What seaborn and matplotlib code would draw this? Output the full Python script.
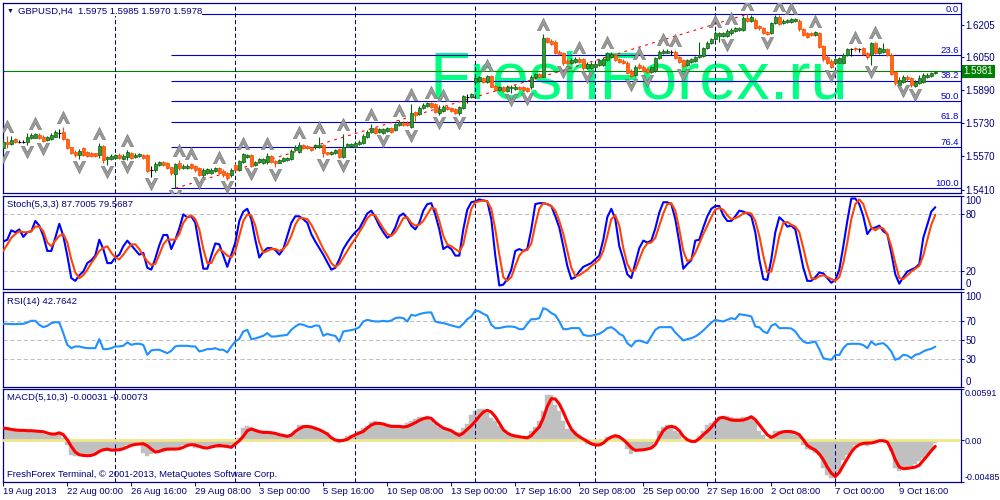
import numpy as np
import matplotlib
matplotlib.use("Agg")
import matplotlib.pyplot as plt
import matplotlib.transforms as mtransforms
from matplotlib.path import Path
import seaborn as sns

sns.set_style("white")
plt.rcParams['font.family'] = ['Liberation Sans', 'DejaVu Sans']

# ---- data (GBPUSD H4, one value per bar) ----
opens = [1.5610, 1.5642, 1.5630, 1.5653, 1.5642, 1.5642, 1.5642, 1.5661, 1.5661, 1.5674,
         1.5666, 1.5650, 1.5653, 1.5666, 1.5683, 1.5690, 1.5653, 1.5614, 1.5593, 1.5577,
         1.5610, 1.5593, 1.5589, 1.5585, 1.5576, 1.5622, 1.5556, 1.5556, 1.5561, 1.5577,
         1.5560, 1.5569, 1.5589, 1.5569, 1.5572, 1.5577, 1.5577, 1.5505, 1.5505, 1.5529,
         1.5545, 1.5537, 1.5518, 1.5486, 1.5537, 1.5516, 1.5513, 1.5532, 1.5526, 1.5513,
         1.5481, 1.5489, 1.5492, 1.5502, 1.5513, 1.5502, 1.5492, 1.5481, 1.5529, 1.5505,
         1.5545, 1.5569, 1.5577, 1.5529, 1.5545, 1.5540, 1.5545, 1.5572, 1.5548, 1.5540,
         1.5550, 1.5553, 1.5556, 1.5601, 1.5593, 1.5626, 1.5621, 1.5614, 1.5614, 1.5618,
         1.5626, 1.5590, 1.5582, 1.5589, 1.5605, 1.5566, 1.5618, 1.5621, 1.5618, 1.5630,
         1.5634, 1.5666, 1.5690, 1.5706, 1.5690, 1.5685, 1.5693, 1.5706, 1.5698, 1.5722,
         1.5733, 1.5733, 1.5714, 1.5785, 1.5775, 1.5803, 1.5814, 1.5827, 1.5824, 1.5782,
         1.5791, 1.5811, 1.5806, 1.5798, 1.5779, 1.5803, 1.5856, 1.5856, 1.5932, 1.5936,
         1.5948, 1.5932, 1.5959, 1.5911, 1.5891, 1.5904, 1.5888, 1.5899, 1.5895, 1.5904,
         1.5904, 1.5899, 1.5904, 1.5956, 1.5969, 1.5956, 1.6141, 1.6130, 1.6125, 1.6076,
         1.6068, 1.6033, 1.6023, 1.6028, 1.6043, 1.6039, 1.5996, 1.5996, 1.6004, 1.6012,
         1.6012, 1.6036, 1.6052, 1.6060, 1.6039, 1.6033, 1.6023, 1.5985, 1.5964, 1.6012,
         1.6004, 1.5991, 1.5980, 1.5985, 1.6044, 1.6068, 1.6072, 1.6076, 1.6076, 1.6049,
         1.6036, 1.6012, 1.6028, 1.6033, 1.6049, 1.6056, 1.6093, 1.6117, 1.6136, 1.6152,
         1.6152, 1.6152, 1.6165, 1.6178, 1.6181, 1.6181, 1.6237, 1.6226, 1.6229, 1.6200,
         1.6189, 1.6173, 1.6168, 1.6213, 1.6246, 1.6217, 1.6221, 1.6221, 1.6226, 1.6226,
         1.6184, 1.6165, 1.6165, 1.6157, 1.6165, 1.6104, 1.6052, 1.6033, 1.6020, 1.6023,
         1.6023, 1.6060, 1.6088, 1.6093, 1.6088, 1.6093, 1.6072, 1.6060, 1.6117, 1.6072,
         1.6076, 1.6088, 1.6060, 1.5980, 1.5915, 1.5932, 1.5953, 1.5948, 1.5911, 1.5924,
         1.5932, 1.5953, 1.5959, 1.5975]
highs = [1.5650, 1.5669, 1.5669, 1.5658, 1.5650, 1.5650, 1.5682, 1.5682, 1.5685, 1.5682,
         1.5674, 1.5669, 1.5682, 1.5698, 1.5701, 1.5714, 1.5658, 1.5618, 1.5601, 1.5605,
         1.5614, 1.5598, 1.5593, 1.5589, 1.5634, 1.5626, 1.5572, 1.5582, 1.5582, 1.5585,
         1.5582, 1.5601, 1.5593, 1.5585, 1.5585, 1.5582, 1.5582, 1.5524, 1.5545, 1.5550,
         1.5550, 1.5542, 1.5521, 1.5540, 1.5553, 1.5534, 1.5534, 1.5537, 1.5531, 1.5518,
         1.5513, 1.5516, 1.5513, 1.5521, 1.5521, 1.5508, 1.5497, 1.5513, 1.5537, 1.5553,
         1.5589, 1.5582, 1.5582, 1.5548, 1.5563, 1.5563, 1.5589, 1.5577, 1.5553, 1.5560,
         1.5566, 1.5566, 1.5605, 1.5626, 1.5642, 1.5630, 1.5626, 1.5618, 1.5630, 1.5666,
         1.5630, 1.5593, 1.5597, 1.5608, 1.5610, 1.5679, 1.5637, 1.5637, 1.5643, 1.5650,
         1.5677, 1.5698, 1.5727, 1.5711, 1.5708, 1.5708, 1.5714, 1.5711, 1.5733, 1.5746,
         1.5740, 1.5740, 1.5824, 1.5791, 1.5814, 1.5827, 1.5835, 1.5835, 1.5830, 1.5819,
         1.5817, 1.5817, 1.5811, 1.5803, 1.5814, 1.5869, 1.5870, 1.5878, 1.5959, 1.5959,
         1.5956, 1.5965, 1.5964, 1.5915, 1.5911, 1.5911, 1.5915, 1.5915, 1.5914, 1.5911,
         1.5911, 1.5904, 1.5964, 1.5975, 1.5975, 1.6162, 1.6149, 1.6136, 1.6133, 1.6084,
         1.6075, 1.6039, 1.6044, 1.6049, 1.6049, 1.6046, 1.6027, 1.6028, 1.6023, 1.6043,
         1.6052, 1.6076, 1.6073, 1.6068, 1.6044, 1.6039, 1.6030, 1.5991, 1.6010, 1.6020,
         1.6010, 1.5996, 1.6007, 1.6052, 1.6084, 1.6088, 1.6088, 1.6084, 1.6084, 1.6056,
         1.6043, 1.6043, 1.6046, 1.6056, 1.6125, 1.6101, 1.6128, 1.6144, 1.6176, 1.6173,
         1.6173, 1.6184, 1.6189, 1.6197, 1.6197, 1.6249, 1.6257, 1.6254, 1.6237, 1.6205,
         1.6194, 1.6178, 1.6220, 1.6252, 1.6252, 1.6233, 1.6236, 1.6239, 1.6237, 1.6233,
         1.6189, 1.6170, 1.6170, 1.6178, 1.6171, 1.6109, 1.6060, 1.6039, 1.6044, 1.6052,
         1.6068, 1.6096, 1.6096, 1.6097, 1.6093, 1.6097, 1.6076, 1.6123, 1.6123, 1.6101,
         1.6120, 1.6093, 1.6068, 1.5985, 1.5953, 1.5964, 1.5962, 1.5953, 1.5940, 1.5964,
         1.5972, 1.5972, 1.5980, 1.5985]
lows = [1.5605, 1.5610, 1.5626, 1.5637, 1.5634, 1.5634, 1.5626, 1.5653, 1.5658, 1.5653,
        1.5642, 1.5647, 1.5650, 1.5663, 1.5658, 1.5650, 1.5605, 1.5582, 1.5569, 1.5556,
        1.5572, 1.5569, 1.5569, 1.5569, 1.5561, 1.5537, 1.5529, 1.5553, 1.5556, 1.5556,
        1.5553, 1.5553, 1.5556, 1.5561, 1.5566, 1.5556, 1.5497, 1.5473, 1.5497, 1.5524,
        1.5524, 1.5508, 1.5481, 1.5416, 1.5505, 1.5508, 1.5508, 1.5511, 1.5497, 1.5476,
        1.5473, 1.5484, 1.5486, 1.5497, 1.5484, 1.5473, 1.5457, 1.5473, 1.5502, 1.5502,
        1.5540, 1.5564, 1.5521, 1.5524, 1.5540, 1.5534, 1.5534, 1.5537, 1.5518, 1.5537,
        1.5545, 1.5548, 1.5553, 1.5597, 1.5589, 1.5608, 1.5605, 1.5597, 1.5608, 1.5610,
        1.5566, 1.5577, 1.5577, 1.5584, 1.5564, 1.5561, 1.5614, 1.5614, 1.5614, 1.5626,
        1.5630, 1.5661, 1.5685, 1.5679, 1.5682, 1.5679, 1.5688, 1.5682, 1.5693, 1.5717,
        1.5717, 1.5717, 1.5706, 1.5743, 1.5769, 1.5798, 1.5809, 1.5806, 1.5782, 1.5770,
        1.5787, 1.5793, 1.5787, 1.5775, 1.5770, 1.5798, 1.5830, 1.5851, 1.5924, 1.5932,
        1.5927, 1.5927, 1.5904, 1.5885, 1.5886, 1.5882, 1.5882, 1.5878, 1.5890, 1.5890,
        1.5886, 1.5882, 1.5898, 1.5951, 1.5949, 1.5953, 1.6120, 1.6109, 1.6065, 1.6059,
        1.6012, 1.6017, 1.6017, 1.6023, 1.6023, 1.5988, 1.5991, 1.5991, 1.5998, 1.6007,
        1.6007, 1.6031, 1.6047, 1.6031, 1.6023, 1.6015, 1.5969, 1.5953, 1.5959, 1.5991,
        1.5980, 1.5972, 1.5975, 1.5980, 1.6039, 1.6064, 1.6068, 1.6060, 1.6039, 1.6023,
        1.6001, 1.6007, 1.6023, 1.6028, 1.6044, 1.6052, 1.6088, 1.6112, 1.6133, 1.6125,
        1.6146, 1.6146, 1.6159, 1.6173, 1.6176, 1.6176, 1.6220, 1.6220, 1.6184, 1.6181,
        1.6160, 1.6155, 1.6163, 1.6208, 1.6204, 1.6210, 1.6217, 1.6217, 1.6221, 1.6178,
        1.6152, 1.6144, 1.6152, 1.6152, 1.6093, 1.6033, 1.6017, 1.5996, 1.6015, 1.6020,
        1.6017, 1.6056, 1.6056, 1.6081, 1.6076, 1.6059, 1.6043, 1.6012, 1.6065, 1.6065,
        1.6072, 1.6056, 1.5962, 1.5917, 1.5907, 1.5924, 1.5936, 1.5907, 1.5904, 1.5920,
        1.5927, 1.5948, 1.5956, 1.5970]
closes = [1.5639, 1.5630, 1.5650, 1.5642, 1.5642, 1.5642, 1.5666, 1.5674, 1.5677, 1.5658,
          1.5647, 1.5663, 1.5674, 1.5690, 1.5683, 1.5653, 1.5610, 1.5585, 1.5577, 1.5598,
          1.5577, 1.5572, 1.5572, 1.5572, 1.5622, 1.5553, 1.5566, 1.5572, 1.5576, 1.5561,
          1.5572, 1.5593, 1.5561, 1.5577, 1.5581, 1.5561, 1.5502, 1.5505, 1.5534, 1.5545,
          1.5529, 1.5513, 1.5489, 1.5534, 1.5513, 1.5526, 1.5526, 1.5516, 1.5505, 1.5481,
          1.5505, 1.5508, 1.5505, 1.5513, 1.5489, 1.5481, 1.5465, 1.5505, 1.5505, 1.5548,
          1.5582, 1.5577, 1.5526, 1.5542, 1.5556, 1.5556, 1.5572, 1.5545, 1.5537, 1.5553,
          1.5561, 1.5561, 1.5597, 1.5618, 1.5626, 1.5613, 1.5610, 1.5601, 1.5626, 1.5626,
          1.5589, 1.5582, 1.5592, 1.5601, 1.5569, 1.5618, 1.5630, 1.5630, 1.5637, 1.5642,
          1.5669, 1.5690, 1.5706, 1.5685, 1.5701, 1.5701, 1.5706, 1.5690, 1.5727, 1.5738,
          1.5722, 1.5722, 1.5782, 1.5770, 1.5806, 1.5819, 1.5827, 1.5811, 1.5787, 1.5798,
          1.5811, 1.5798, 1.5791, 1.5782, 1.5808, 1.5862, 1.5856, 1.5872, 1.5951, 1.5953,
          1.5932, 1.5959, 1.5907, 1.5891, 1.5904, 1.5888, 1.5907, 1.5907, 1.5907, 1.5895,
          1.5891, 1.5888, 1.5956, 1.5969, 1.5956, 1.6141, 1.6125, 1.6113, 1.6072, 1.6065,
          1.6023, 1.6023, 1.6036, 1.6039, 1.6028, 1.5996, 1.6017, 1.6017, 1.6017, 1.6036,
          1.6039, 1.6068, 1.6065, 1.6036, 1.6028, 1.6020, 1.5975, 1.5959, 1.6004, 1.5996,
          1.5985, 1.5977, 1.6001, 1.6044, 1.6076, 1.6081, 1.6081, 1.6076, 1.6044, 1.6028,
          1.6007, 1.6036, 1.6039, 1.6049, 1.6060, 1.6093, 1.6120, 1.6136, 1.6168, 1.6165,
          1.6165, 1.6178, 1.6181, 1.6189, 1.6189, 1.6237, 1.6226, 1.6242, 1.6189, 1.6189,
          1.6165, 1.6160, 1.6213, 1.6246, 1.6210, 1.6226, 1.6229, 1.6233, 1.6233, 1.6184,
          1.6157, 1.6149, 1.6157, 1.6173, 1.6101, 1.6039, 1.6023, 1.6004, 1.6039, 1.6044,
          1.6060, 1.6088, 1.6088, 1.6088, 1.6088, 1.6065, 1.6049, 1.6117, 1.6072, 1.6093,
          1.6088, 1.6060, 1.5969, 1.5924, 1.5940, 1.5956, 1.5943, 1.5915, 1.5932, 1.5948,
          1.5964, 1.5964, 1.5972, 1.5978]

# bars carrying a Bill Williams fractal
fractal_up_bars = [1, 8, 15, 24, 31, 44, 47, 54, 60, 66, 74, 79, 85, 92, 99, 102, 107, 110,
                   121, 135, 144, 151, 159, 165, 168, 178, 182, 186, 194, 197, 203, 213, 218]
fractal_down_bars = [0, 6, 10, 19, 26, 31, 37, 43, 49, 56, 62, 68, 80, 85, 95, 102, 109, 114,
                     127, 131, 140, 146, 157, 161, 170, 181, 191, 207, 217, 225, 228]

# fibonacci retracement object
fib_start_bar = 42
fib_labels = ['0.0', '23.6', '38.2', '50.0', '61.8', '76.4', '100.0']
fib_prices = [1.6257, 1.6059, 1.5936, 1.5837, 1.5737, 1.5614, 1.5416]
trend_bars = [43, 186]
trend_prices = [1.5416, 1.6257]
bid_price = 1.5981

price_ticks = [1.6205, 1.6050, 1.5890, 1.5730, 1.5570, 1.5410]
week_bars = [28, 58, 88, 118, 148, 178, 208]
date_bars = [0, 16, 32, 48, 64, 80, 96, 112, 128, 144, 160, 176, 192, 208, 224]
date_labels = ['19 Aug 2013', '22 Aug 00:00', '26 Aug 16:00', '29 Aug 08:00', '3 Sep 00:00',
               '5 Sep 16:00', '10 Sep 08:00', '13 Sep 00:00', '17 Sep 16:00', '20 Sep 08:00',
               '25 Sep 00:00', '27 Sep 16:00', '2 Oct 08:00', '7 Oct 00:00', '9 Oct 16:00']

stoch_main = [51, 53, 63, 61, 64, 56, 61, 62, 73, 68,
              57, 41, 41, 55, 70, 57, 36, 12, 9, 15,
              19, 28, 31, 36, 53, 43, 28, 28, 34, 37,
              46, 52, 47, 42, 37, 39, 23, 21, 33, 47,
              58, 58, 43, 53, 65, 80, 77, 78, 71, 46,
              22, 22, 36, 49, 48, 36, 24, 37, 50, 73,
              83, 86, 75, 53, 34, 40, 44, 44, 42, 37,
              43, 57, 71, 78, 78, 75, 71, 59, 51, 44,
              37, 29, 21, 23, 32, 43, 50, 56, 61, 65,
              73, 81, 84, 77, 68, 61, 55, 58, 66, 78,
              81, 76, 68, 64, 71, 84, 91, 92, 80, 64,
              43, 46, 43, 36, 36, 64, 85, 93, 94, 96,
              95, 94, 75, 36, 4, 5, 11, 21, 41, 43,
              41, 43, 64, 91, 92, 92, 91, 89, 78, 66,
              46, 25, 11, 13, 19, 24, 26, 28, 32, 36,
              53, 77, 86, 75, 46, 32, 16, 12, 28, 44,
              52, 50, 52, 65, 82, 93, 93, 91, 75, 50,
              22, 27, 31, 52, 53, 66, 78, 86, 89, 89,
              79, 73, 73, 78, 84, 83, 81, 78, 61, 32,
              11, 10, 32, 61, 77, 73, 67, 68, 64, 44,
              23, 9, 9, 13, 18, 17, 12, 7, 10, 21,
              46, 73, 97, 97, 91, 78, 59, 65, 66, 68,
              62, 59, 39, 16, 6, 13, 19, 21, 23, 27,
              55, 69, 83, 87.7005]
stoch_signal = [41, 48, 55, 59, 62, 61, 61, 62, 67, 67,
                62, 50, 46, 52, 57, 59, 50, 32, 18, 12,
                15, 21, 28, 34, 41, 44, 46, 39, 34, 32,
                37, 43, 48, 48, 43, 36, 30, 26, 27, 37,
                48, 53, 53, 53, 59, 71, 77, 79, 75, 64,
                43, 28, 28, 37, 43, 40, 36, 34, 41, 57,
                73, 80, 79, 68, 50, 39, 41, 43, 43, 41,
                43, 48, 57, 69, 76, 76, 75, 69, 61, 52,
                43, 36, 28, 24, 27, 34, 41, 48, 54, 61,
                68, 76, 80, 79, 72, 65, 59, 57, 61, 68,
                76, 77, 71, 68, 69, 73, 80, 87, 86, 73,
                57, 48, 46, 43, 40, 48, 68, 86, 93, 94,
                95, 94, 86, 64, 37, 13, 9, 13, 25, 36,
                41, 42, 49, 69, 86, 92, 91, 89, 84, 73,
                59, 41, 23, 14, 15, 18, 21, 25, 28, 32,
                41, 57, 75, 79, 68, 44, 27, 19, 21, 32,
                43, 49, 50, 55, 68, 81, 91, 92, 84, 64,
                41, 30, 32, 39, 49, 59, 68, 77, 85, 87,
                85, 79, 75, 76, 78, 81, 82, 81, 73, 57,
                36, 18, 19, 36, 57, 71, 72, 69, 67, 61,
                44, 26, 12, 11, 14, 15, 13, 11, 9, 13,
                28, 50, 75, 91, 96, 91, 78, 66, 63, 66,
                65, 59, 46, 28, 12, 11, 15, 19, 22, 25,
                36, 53, 69, 79.5687]
rsi_values = [66.8, 66.8, 66.5, 66.5, 66.8, 66.8, 68.2, 70.0, 70.0, 65.8,
              63.3, 64.7, 67.5, 68.6, 68.2, 57.0, 44.7, 41.2, 43.0, 43.0,
              41.9, 41.2, 41.2, 41.2, 50.7, 40.2, 40.2, 41.2, 43.0, 43.0,
              43.7, 47.2, 44.7, 45.8, 45.8, 44.7, 34.2, 38.8, 39.5, 39.5,
              37.7, 35.9, 38.4, 43.0, 43.7, 43.7, 43.7, 43.0, 43.0, 37.7,
              38.8, 40.2, 40.2, 41.2, 39.5, 39.5, 36.7, 43.0, 48.2, 51.0,
              58.8, 60.5, 50.7, 51.4, 52.8, 54.2, 57.0, 53.5, 53.5, 54.2,
              54.6, 55.3, 60.5, 64.0, 66.5, 65.8, 64.0, 63.3, 65.1, 64.7,
              54.2, 56.3, 54.9, 54.2, 48.2, 58.8, 59.5, 60.2, 61.2, 63.3,
              69.3, 71.0, 70.0, 69.3, 69.3, 70.0, 69.3, 70.3, 72.8, 73.5,
              72.8, 69.3, 76.3, 75.3, 77.0, 78.1, 78.8, 78.8, 69.3, 68.2,
              67.5, 66.5, 65.1, 64.0, 63.0, 66.8, 71.7, 74.6, 80.9, 79.8,
              77.4, 75.3, 65.8, 62.3, 62.3, 63.3, 64.0, 64.0, 63.3, 61.2,
              61.2, 66.8, 71.7, 71.7, 72.8, 83.3, 81.6, 78.1, 76.0, 69.3,
              61.2, 61.2, 62.3, 62.3, 62.3, 55.3, 54.2, 54.2, 55.3, 56.3,
              58.8, 62.3, 63.3, 60.5, 56.3, 54.2, 46.5, 43.0, 48.2, 49.3,
              47.9, 46.5, 53.5, 60.5, 63.3, 63.3, 63.3, 63.3, 57.7, 53.5,
              49.3, 50.7, 51.7, 53.5, 56.3, 59.8, 64.0, 68.2, 71.0, 70.0,
              69.3, 71.0, 72.8, 71.7, 77.0, 76.3, 75.6, 74.6, 64.0, 63.3,
              58.8, 57.0, 64.7, 66.8, 62.3, 62.3, 62.3, 61.9, 58.8, 52.8,
              48.2, 46.5, 47.2, 48.2, 40.2, 30.7, 29.6, 28.9, 34.2, 33.9,
              41.2, 45.4, 45.8, 45.8, 45.8, 44.4, 41.2, 48.2, 44.7, 45.8,
              46.5, 43.0, 37.7, 28.9, 30.7, 34.2, 33.5, 30.7, 34.2, 35.2,
              37.7, 39.5, 40.5, 42.7642]
macd_main = [0.00148, 0.00148, 0.00120, 0.00120, 0.00120, 0.00109, 0.00109, 0.00109, 0.00101, 0.00101,
             0.00070, 0.00062, 0.00062, 0.00062, 0.00082, 0.00023, -0.00054, -0.00171, -0.00190, -0.00190,
             -0.00190, -0.00183, -0.00171, -0.00152, -0.00124, -0.00117, -0.00132, -0.00132, -0.00117, -0.00105,
             -0.00093, -0.00062, -0.00054, -0.00047, -0.00047, -0.00152, -0.00190, -0.00163, -0.00140, -0.00132,
             -0.00140, -0.00132, -0.00113, -0.00093, -0.00085, -0.00062, -0.00054, -0.00062, -0.00093, -0.00093,
             -0.00085, -0.00074, -0.00074, -0.00085, -0.00093, -0.00085, -0.00093, -0.00085, -0.00054, 0.00023,
             0.00140, 0.00167, 0.00148, 0.00132, 0.00109, 0.00109, 0.00101, 0.00089, 0.00082, 0.00070,
             0.00051, 0.00043, 0.00070, 0.00109, 0.00171, 0.00171, 0.00167, 0.00159, 0.00148, 0.00132,
             0.00101, 0.00093, 0.00023, -0.00016, -0.00035, 0.00004, 0.00043, 0.00062, 0.00074, 0.00109,
             0.00140, 0.00159, 0.00210, 0.00218, 0.00210, 0.00194, 0.00179, 0.00171, 0.00171, 0.00171,
             0.00171, 0.00194, 0.00218, 0.00249, 0.00264, 0.00272, 0.00276, 0.00237, 0.00187, 0.00148,
             0.00132, 0.00120, 0.00109, 0.00093, 0.00093, 0.00140, 0.00187, 0.00295, 0.00334, 0.00361,
             0.00361, 0.00315, 0.00256, 0.00218, 0.00159, 0.00120, 0.00070, 0.00062, 0.00031, 0.00023,
             0.00016, 0.00023, 0.00101, 0.00148, 0.00218, 0.00342, 0.00528, 0.00521, 0.00412, 0.00342,
             0.00225, 0.00132, 0.00120, 0.00109, 0.00054, -0.00023, -0.00047, -0.00054, -0.00054, -0.00047,
             -0.00023, 0.00031, 0.00051, 0.00043, 0.00023, -0.00016, -0.00101, -0.00163, -0.00113, -0.00105,
             -0.00105, -0.00093, -0.00085, -0.00035, 0.00109, 0.00148, 0.00171, 0.00171, 0.00101, 0.00082,
             0.00004, -0.00016, -0.00016, -0.00008, 0.00043, 0.00101, 0.00171, 0.00198, 0.00225, 0.00264,
             0.00276, 0.00276, 0.00264, 0.00256, 0.00256, 0.00264, 0.00264, 0.00264, 0.00218, 0.00109,
             0.00062, 0.00016, 0.00031, 0.00109, 0.00109, 0.00101, 0.00101, 0.00101, 0.00062, 0.00043,
             -0.00054, -0.00105, -0.00113, -0.00152, -0.00171, -0.00326, -0.00404, -0.00443, -0.00443, -0.00365,
             -0.00229, -0.00171, -0.00132, -0.00062, -0.00047, -0.00035, -0.00074, -0.00035, -0.00035, -0.00016,
             -0.00016, -0.00016, -0.00132, -0.00326, -0.00358, -0.00326, -0.00319, -0.00307, -0.00280, -0.00249,
             -0.00210, -0.00171, -0.00124, -0.00031]
macd_signal = [0.00140, 0.00132, 0.00124, 0.00117, 0.00113, 0.00113, 0.00109, 0.00109, 0.00105, 0.00101,
               0.00097, 0.00082, 0.00070, 0.00070, 0.00085, 0.00062, 0.00004, -0.00074, -0.00140, -0.00171,
               -0.00179, -0.00183, -0.00179, -0.00163, -0.00132, -0.00113, -0.00105, -0.00117, -0.00117, -0.00113,
               -0.00101, -0.00082, -0.00062, -0.00051, -0.00047, -0.00043, -0.00066, -0.00105, -0.00140, -0.00132,
               -0.00113, -0.00105, -0.00105, -0.00105, -0.00101, -0.00085, -0.00062, -0.00054, -0.00058, -0.00074,
               -0.00089, -0.00093, -0.00082, -0.00070, -0.00062, -0.00070, -0.00074, -0.00085, -0.00047, -0.00008,
               0.00043, 0.00109, 0.00128, 0.00113, 0.00097, 0.00089, 0.00089, 0.00085, 0.00078, 0.00062,
               0.00054, 0.00043, 0.00058, 0.00101, 0.00132, 0.00155, 0.00159, 0.00152, 0.00136, 0.00120,
               0.00097, 0.00070, 0.00027, 0.00000, -0.00008, -0.00004, 0.00008, 0.00039, 0.00062, 0.00082,
               0.00101, 0.00140, 0.00175, 0.00194, 0.00194, 0.00187, 0.00171, 0.00159, 0.00159, 0.00159,
               0.00152, 0.00159, 0.00179, 0.00202, 0.00229, 0.00249, 0.00260, 0.00253, 0.00206, 0.00171,
               0.00140, 0.00124, 0.00109, 0.00078, 0.00054, 0.00082, 0.00124, 0.00167, 0.00218, 0.00276,
               0.00326, 0.00346, 0.00326, 0.00272, 0.00198, 0.00120, 0.00082, 0.00058, 0.00047, 0.00039,
               0.00031, 0.00027, 0.00051, 0.00105, 0.00152, 0.00256, 0.00392, 0.00482, 0.00478, 0.00420,
               0.00326, 0.00218, 0.00128, 0.00074, 0.00039, 0.00012, -0.00016, -0.00043, -0.00058, -0.00058,
               -0.00035, 0.00008, 0.00035, 0.00051, 0.00039, 0.00004, -0.00039, -0.00089, -0.00120, -0.00117,
               -0.00113, -0.00105, -0.00093, -0.00054, 0.00031, 0.00109, 0.00148, 0.00159, 0.00148, 0.00109,
               0.00043, 0.00004, -0.00016, -0.00016, 0.00016, 0.00062, 0.00101, 0.00148, 0.00206, 0.00256,
               0.00264, 0.00249, 0.00233, 0.00229, 0.00229, 0.00233, 0.00249, 0.00272, 0.00237, 0.00179,
               0.00120, 0.00062, 0.00031, 0.00054, 0.00082, 0.00097, 0.00101, 0.00097, 0.00085, 0.00062,
               0.00004, -0.00062, -0.00093, -0.00117, -0.00163, -0.00229, -0.00315, -0.00385, -0.00424, -0.00377,
               -0.00295, -0.00218, -0.00140, -0.00085, -0.00054, -0.00039, -0.00035, -0.00035, -0.00023, -0.00008,
               -0.00008, -0.00023, -0.00113, -0.00229, -0.00315, -0.00334, -0.00330, -0.00323, -0.00315, -0.00292,
               -0.00237, -0.00183, -0.00124, -0.00073]

# ---- colours ----
NAVY = '#000080'
FIB = '#0000CD'
BULL, BULL_EDGE = '#2E9B2E', '#0B5D0B'
BEAR, BEAR_EDGE = '#FF6A10', '#FF4500'

o = np.array(opens); h = np.array(highs); l = np.array(lows); c = np.array(closes)
bars = np.arange(len(c))

W, H = 1000, 500
fig = plt.figure(figsize=(10, 5), dpi=100)
fig.patch.set_facecolor('white')


def panel(top, bottom, left=2.7, right=960.7):
    return fig.add_axes([left / W, 1 - bottom / H, (right - left) / W, (bottom - top) / H])


ax_main = panel(2.7, 193.0)
ax_sto = panel(195.7, 289.3)
ax_rsi = panel(292.3, 387.3)
ax_macd = panel(389.3, 481.7)
axes = [ax_main, ax_sto, ax_rsi, ax_macd]

for ax in axes:
    ax.set_facecolor('white')
    ax.set_xlim(-0.15, 239.35)
    for sp in ax.spines.values():
        sp.set_color(NAVY)
        sp.set_linewidth(0.9)
    ax.tick_params(axis='both', which='both', left=False, bottom=False, labelleft=False,
                   labelbottom=False, right=True, labelright=True, direction='out',
                   length=2.0, width=0.7, color=NAVY, labelcolor=NAVY, labelsize=7, pad=1.5)
    for b in week_bars:
        ax.axvline(b, color=NAVY, lw=0.75, ls=(0, (4, 2.5)), zorder=3)
    ax.grid(False)


def corner_text(ax, s, dx, dy, corner=(0, 1), size=6.8, **kw):
    ax.annotate(s, xy=corner, xycoords='axes fraction', xytext=(dx, dy),
                textcoords='offset pixels', color=NAVY, fontsize=size, ha='left',
                va='center', zorder=10, annotation_clip=False, **kw)


# ---- main price panel ----
ax_main.set_ylim(1.53934, 1.63127)
ax_main.text(0.446, 0.494, 'FreshForex.ru', transform=ax_main.transAxes, fontsize=48,
             color='#00FF80', ha='left', va='baseline', zorder=0.5)

ax_main.hlines(fib_prices, fib_start_bar, 239.35, color=FIB, lw=0.8, zorder=2)
for lab, p in zip(fib_labels, fib_prices):
    ax_main.annotate(lab, xy=(1, p), xycoords=('axes fraction', 'data'), xytext=(-2, 2.5),
                     textcoords='offset pixels', ha='right', va='baseline', color=FIB,
                     fontsize=6.8, zorder=6)
ax_main.axhline(bid_price, color='#008000', lw=0.8, zorder=2)
sns.lineplot(x=trend_bars, y=trend_prices, ax=ax_main, color='#FF0000', lw=0.8,
             linestyle=(0, (2.5, 4)), zorder=3, legend=False)

up = c > o
dn = c < o
dj = c == o
ax_main.vlines(bars[up], l[up], h[up], color=BULL_EDGE, lw=0.8, zorder=4)
ax_main.vlines(bars[dn], l[dn], h[dn], color=BEAR_EDGE, lw=0.8, zorder=4)
ax_main.vlines(bars[dj], l[dj], h[dj], color='black', lw=0.8, zorder=4)
ax_main.bar(bars[up], (c - o)[up], bottom=o[up], width=0.72, color=BULL,
            edgecolor=BULL_EDGE, lw=0.5, zorder=5)
ax_main.bar(bars[dn], (o - c)[dn], bottom=c[dn], width=0.72, color=BEAR,
            edgecolor=BEAR_EDGE, lw=0.5, zorder=5)
ax_main.hlines(c[dj], bars[dj] - 0.4, bars[dj] + 0.4, color='black', lw=0.8, zorder=5)

up_marker = Path([(-1, -1), (0, 1), (1, -1), (0.5, -1), (0, -0.05), (-0.5, -1), (-1, -1)],
                 [Path.MOVETO] + [Path.LINETO] * 5 + [Path.CLOSEPOLY])
dn_marker = Path([(-1, 1), (0, -1), (1, 1), (0.5, 1), (0, 0.05), (-0.5, 1), (-1, 1)],
                 [Path.MOVETO] + [Path.LINETO] * 5 + [Path.CLOSEPOLY])
t_up = ax_main.transData + mtransforms.ScaledTranslation(0, 10 / 100, fig.dpi_scale_trans)
t_dn = ax_main.transData + mtransforms.ScaledTranslation(0, -7.5 / 100, fig.dpi_scale_trans)
ax_main.scatter(fractal_up_bars, h[fractal_up_bars], marker=up_marker, s=78, color='#9A9A9A',
                edgecolors='#6E6E6E', linewidths=0.4, transform=t_up, zorder=6)
ax_main.scatter(fractal_down_bars, l[fractal_down_bars], marker=dn_marker, s=78, color='#9A9A9A',
                edgecolors='#6E6E6E', linewidths=0.4, transform=t_dn, zorder=6)

ax_main.set_yticks(price_ticks)
ax_main.set_yticklabels([f'{p:.4f}' for p in price_ticks])
ax_main.annotate('1.5981', xy=(1, bid_price), xycoords=('axes fraction', 'data'),
                 xytext=(3, 0), textcoords='offset pixels', ha='left', va='center',
                 color='white', fontsize=7, annotation_clip=False, zorder=10,
                 bbox=dict(boxstyle='square,pad=0.15', fc='#008000', ec='none'))
corner_text(ax_main, '\u25BC', 4, -8.5, size=5)
corner_text(ax_main, 'GBPUSD,H4  1.5975 1.5985 1.5970 1.5978', 15, -8.5,
            bbox=dict(boxstyle='square,pad=0.05', fc='white', ec='none'))

# ---- stochastic ----
ax_sto.set_ylim(0, 100)
for lvl in (20, 80):
    ax_sto.axhline(lvl, color='#C0C0C0', lw=0.75, ls=(0, (4, 2.5)), zorder=1)
sns.lineplot(x=bars, y=stoch_main, ax=ax_sto, color='#0000FF', lw=1.5, zorder=4, legend=False)
sns.lineplot(x=bars, y=stoch_signal, ax=ax_sto, color='#FF4500', lw=1.5, zorder=5, legend=False)
ax_sto.set_yticks([0, 20, 80, 100])
ax_sto.set_yticklabels(['0', '20', '80', '100'])
corner_text(ax_sto, 'Stoch(5,3,3) 87.7005 79.5687', 4, -9)

# ---- RSI ----
ax_rsi.set_ylim(0, 100)
for lvl in (30, 50, 70):
    ax_rsi.axhline(lvl, color='#C0C0C0', lw=0.75, ls=(0, (4, 2.5)), zorder=1)
sns.lineplot(x=bars, y=rsi_values, ax=ax_rsi, color='#1E90FF', lw=1.5, zorder=4, legend=False)
ax_rsi.set_yticks([0, 30, 50, 70, 100])
ax_rsi.set_yticklabels(['0', '30', '50', '70', '100'])
corner_text(ax_rsi, 'RSI(14) 42.7642', 4, -8.7)

# ---- MACD ----
ax_macd.set_ylim(-0.00485, 0.00591)
ax_macd.bar(bars, macd_main, width=1.0, color='#C0C0C0', edgecolor='#C0C0C0', lw=0.3, zorder=2)
ax_macd.axhline(0, color='#F0E68C', lw=2.0, zorder=3)
sns.lineplot(x=bars, y=macd_signal, ax=ax_macd, color='#FF0000', lw=2.2, zorder=5, legend=False)
ax_macd.set_yticks([-0.00485, 0.0, 0.00591])
ax_macd.set_yticklabels(['-0.00485', '0.00', '0.00591'])
ax_macd.tick_params(axis='y', labelsize=6.4, pad=0.8)
corner_text(ax_macd, 'MACD(5,10,3) -0.00031 -0.00073', 4, -8.7)
corner_text(ax_macd, 'FreshForex Terminal, \u00a9 2001-2013, MetaQuotes Software Corp.', 4, 6.7,
            corner=(0, 0))
ax_macd.tick_params(axis='x', bottom=True, labelbottom=True, length=3, width=0.7,
                    color=NAVY, labelcolor=NAVY, labelsize=6.8, pad=1)
ax_macd.set_xticks(date_bars)
ax_macd.set_xticklabels(date_labels, ha='left')

# clamp edge labels inside their panels, like the terminal does
for ax in (ax_sto, ax_rsi, ax_macd):
    ticks = ax.get_yticks()
    lo, hi = ax.get_ylim()
    for t, lab in zip(ticks, ax.get_yticklabels()):
        if np.isclose(t, hi):
            lab.set_va('top')
        elif np.isclose(t, lo):
            lab.set_va('bottom')

for ax in axes:
    ax.set_xlabel('')
    ax.set_ylabel('')
    ax.set_xlim(-0.15, 239.35)

fig.savefig('out.png', dpi=100, facecolor='white')
